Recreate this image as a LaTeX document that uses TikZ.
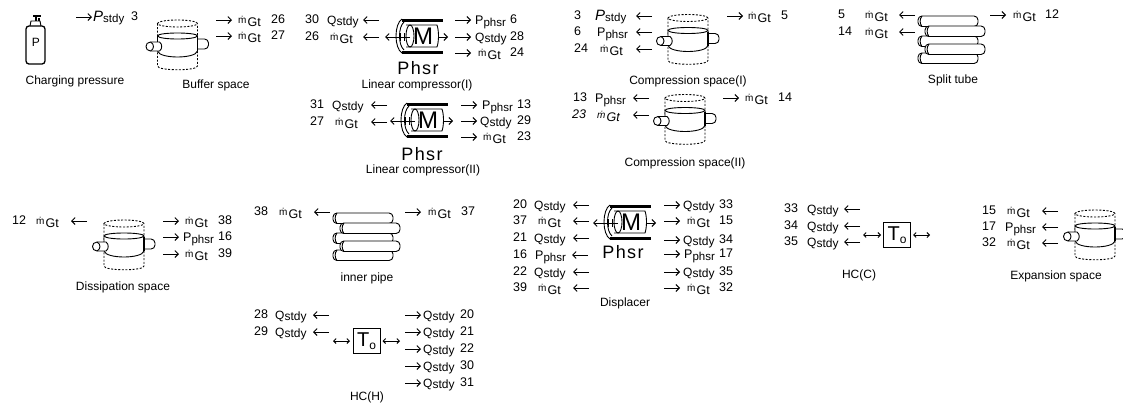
\documentclass[tikz,border=0pt]{standalone}
\usepackage{fontspec}
\setmainfont{Liberation Sans}
\newfontfamily\phsrfont[LetterSpace=8]{Liberation Sans}
\usetikzlibrary{arrows.meta}
\newcommand\fsz[1]{\fontsize{#1}{#1}\selectfont}
\newcommand\MGt{\raisebox{1.5pt}{\fsz{10}\.m}\hspace{1pt}\raisebox{-1.5pt}{\fsz{12.5}Gt}}
\newcommand\Qst{{\fsz{12}Q\raisebox{-0.8pt}{stdy}}}
\newcommand\Pph{{\fsz{12.5}P\raisebox{-2pt}{\fsz{11.5}phsr}}}
\newcommand\Pst{{\fsz{15}\itshape P\upshape\raisebox{-1pt}{\fsz{11.5}stdy}}}
\newcommand\rowR[7]{%
  \coordinate (#1a) at (#2,#3);
  \coordinate (#1b) at (#2+16,#3);
  \draw[flow] (#1a) -- (#1b);
  \node[lab] (#1t) at (#4,#3+4.5) {#5};
  \node[num] (#1n) at (#6,#3+3) {#7};
}
\newcommand\rowL[7]{%
  \coordinate (#1a) at (#2+16,#3);
  \coordinate (#1b) at (#2,#3);
  \draw[flow] (#1a) -- (#1b);
  \node[lab] (#1t) at (#4,#3+4.5) {#5};
  \node[num] (#1n) at (#6,#3+3) {#7};
}
\newcommand\cylicon[2]{%
  \begin{scope}[shift={(#1,#2)}]
    \draw[ico,dashed,dash pattern=on 2pt off 1.6pt] (-20,-19.5) -- (-20,23) .. controls (-20,28) and (20,28) .. (20,23) -- (20,-19.5);
    \draw[ico,dashed,dash pattern=on 2pt off 1.6pt] (0,-19.5) ellipse [x radius=20pt,y radius=3.5pt];
    \draw[ico,fill=white,rounded corners=4pt] (15,-4) -- (31,-4) -- (31,6) -- (15,6) -- cycle;
    \draw[ico,fill=white] (-20,-7) -- (-20,8) .. controls (-18,16) and (18,16) .. (20,8) -- (20,-7) .. controls (20,-11) and (-20,-11) .. (-20,-7) -- cycle;
    \draw[ico] (-20,-7) .. controls (-18,-3) and (18,-3) .. (20,-7);
    \draw[ico,line width=1.3pt] (20,-6) -- (20,8);
    \draw[ico,fill=white] (-27,-1) -- (-18,-1) .. controls (-15,1) and (-15,6) .. (-18,8) -- (-27,8) .. controls (-33,8) and (-33,-1) .. (-27,-1) -- cycle;
    \draw[ico] (-27,-1) .. controls (-23,1) and (-23,6) .. (-27,8);
  \end{scope}
}
\newcommand\onetube[3]{%
  \draw[ico,fill=white,rounded corners=4pt] (#1,#2) rectangle (#1+#3,#2+10.5);
  \draw[ico] (#1+4,#2) .. controls (#1+1.5,#2+3) and (#1+1.5,#2+7.5) .. (#1+4,#2+10.5);
}
\newcommand\tubes[2]{%
  \begin{scope}[shift={(#1,#2)}]
    \onetube{0}{0}{60}
    \onetube{0}{20}{60}
    \onetube{0}{37}{60}
    \onetube{7}{10}{60}
    \onetube{7}{28}{60}
  \end{scope}
}
\newcommand\motor[2]{%
  \begin{scope}[shift={(#1,#2)}]
    \draw[ico,fill=black,line width=0.6pt] (-16,-17) rectangle (24,-15);
    \draw[ico,fill=black,line width=0.6pt] (-16,15) rectangle (24,17);
    \draw[ico] (-16,-17) .. controls (-24,-12) and (-24,12) .. (-16,17);
    \draw[ico] (-14,-14) .. controls (-20,-9) and (-20,9) .. (-14,14);
    \draw[ico] (-8,0) ellipse [x radius=4pt,y radius=11pt];
    \draw[ico] (-12,-11) -- (19,-11) .. controls (21,-5) and (21,5) .. (19,11) -- (-12,11);
    \draw[flow] (-8,1) -- (-33,1);
    \draw[ico] (-18,-3) -- (-18,5);
    \draw[ico] (-14,-3) -- (-14,5);
    \draw[flow] (20,1) -- (30,1);
    \node[font=\fsz{24}] at (5,0.5) {M};
  \end{scope}
}
\tikzset{
  lab/.style={anchor=base west,inner sep=0pt,font=\fsz{12}},
  num/.style={anchor=base west,inner sep=0pt,font=\fsz{12.5}},
  title/.style={anchor=center,inner sep=0pt,font=\fsz{12}},
  phsrlab/.style={anchor=center,inner sep=0pt,font=\phsrfont\fsz{18}},
  ico/.style={line width=0.9pt,black},
  flow/.style={line width=0.9pt,black,-{Straight Barb[length=3.5pt,width=7pt]}},
  link/.style={line width=0.9pt,black,{Straight Barb[length=2.5pt,width=5pt]}-{Straight Barb[length=2.5pt,width=5pt]}},
  tbox/.style={draw,line width=1pt,minimum width=27pt,minimum height=25pt,inner sep=0pt}
}
\begin{document}
\begin{tikzpicture}[x=1pt,y=-1pt]
\useasboundingbox (0,0) rectangle (1123,408);
\clip (0,0) rectangle (1123,408);
% Charging pressure
\draw[ico,line width=1.3pt,rounded corners=3pt] (26,26) rectangle (45,64);
\draw[ico] (30,26) -- (31,21) -- (40,21) -- (41,26);
\draw[ico,line width=1.2pt] (33,16) -- (41,16) (36,16) -- (36,21) (39,18) -- (39,21);
\node[font=\fsz{12},inner sep=0pt] (bottleP) at (36,42) {P};
\node[title] (tCharge) at (75,81) {Charging pressure};
\rowR{cpa}{76}{17}{93}{\Pst}{131}{3}
% Buffer space
\cylicon{177.5}{43}
\node[title] (tBuffer) at (216,85) {Buffer space};
\rowR{bua}{216}{20}{238}{\MGt}{271}{26}
\rowR{bub}{216}{36}{238}{\MGt}{271}{27}
% Linear compressor I
\motor{418}{36}
\node[phsrlab] (pLcA) at (418,68) {Phsr};
\node[title] (tLcA) at (417,85) {Linear compressor(I)};
\rowL{laa}{363}{20}{327}{\Qst}{305}{30}
\rowL{lab}{363}{37}{330}{\MGt}{305}{26}
\rowR{lac}{455}{20}{475}{\Pph}{510}{6}
\rowR{lad}{455}{37}{475}{\Qst}{510}{28}
\rowR{lae}{455}{53}{478}{\MGt}{510}{24}
% Linear compressor II
\motor{423}{120}
\node[phsrlab] (pLcB) at (422,154) {Phsr};
\node[title] (tLcB) at (423,170) {Linear compressor(II)};
\rowL{lba}{371}{105}{332}{\Qst}{310}{31}
\rowL{lbb}{371}{122}{335}{\MGt}{310}{27}
\rowR{lbc}{461}{105}{482}{\Pph}{517}{13}
\rowR{lbd}{461}{121}{480}{\Qst}{517}{29}
\rowR{lbe}{461}{137}{483}{\MGt}{517}{23}
% Compression space I
\cylicon{688}{37.5}
\node[title] (tCsA) at (688,81) {Compression space(I)};
\rowL{caa}{636}{16}{595}{\Pst}{574}{3}
\rowL{cab}{636}{32}{597}{\Pph}{574}{6}
\rowL{cac}{636}{49}{600}{\MGt}{574}{24}
\rowR{cad}{727}{16}{748}{\MGt}{781}{5}
% Compression space II
\cylicon{685}{117.5}
\node[title] (tCsB) at (685,163) {Compression space(II)};
\rowL{cba}{633}{98}{595}{\Pph}{573}{13}
\rowL{cbb}{633}{115}{597}{\itshape\MGt}{572}{\itshape 23}
\rowR{cbc}{723}{98}{745}{\MGt}{778}{14}
% Split tube
\tubes{918}{16}
\node[title] (tSplit) at (953,80) {Split tube};
\rowL{saa}{899}{15}{865}{\MGt}{838}{5}
\rowL{sab}{899}{32}{865}{\MGt}{838}{14}
\rowR{sac}{990}{15}{1013}{\MGt}{1045}{12}
% Dissipation space
\cylicon{124}{243}
\node[title] (tDiss) at (123,287) {Dissipation space};
\rowL{daa}{71}{221}{36}{\MGt}{12}{12}
\rowR{dab}{163}{221}{185}{\MGt}{218}{38}
\rowR{dac}{163}{237}{183}{\Pph}{218}{16}
\rowR{dad}{163}{254}{185}{\MGt}{218}{39}
% Inner pipe
\tubes{333}{213}
\node[title] (tInner) at (367,278) {inner pipe};
\rowL{iaa}{314}{212}{279}{\MGt}{254}{38}
\rowR{iab}{405}{212}{428}{\MGt}{461}{37}
% HC(H)
\node[tbox] (Th) at (366.5,341) {\raisebox{1pt}{\fsz{20}T}\raisebox{-2pt}{\fsz{12}o}};
\coordinate (ThL) at (333,341);
\coordinate (ThR) at (400,341);
\draw[link,shorten >=2.5pt] (ThL) -- (Th.west);
\draw[link,shorten >=2pt] (ThR) -- (Th.east);
\node[title] (tHch) at (367,397) {HC(H)};
\rowL{hha}{313}{315}{275}{\Qst}{254}{28}
\rowL{hhb}{313}{332}{275}{\Qst}{254}{29}
\rowR{hhc}{405}{315}{423}{\Qst}{460}{20}
\rowR{hhd}{405}{332}{423}{\Qst}{460}{21}
\rowR{hhe}{405}{349}{423}{\Qst}{460}{22}
\rowR{hhf}{405}{366}{423}{\Qst}{460}{30}
\rowR{hhg}{405}{383}{423}{\Qst}{460}{31}
% Displacer
\motor{626}{222}
\node[phsrlab] (pDis) at (623,252) {Phsr};
\node[title] (tDis) at (625,303) {Displacer};
\rowL{dsa}{573}{205}{534}{\Qst}{513}{20}
\rowL{dsb}{573}{221}{538}{\MGt}{513}{37}
\rowL{dsc}{573}{238}{534}{\Qst}{513}{21}
\rowL{dsd}{572}{255}{535}{\Pph}{513}{16}
\rowL{dse}{573}{272}{534}{\Qst}{513}{22}
\rowL{dsf}{573}{288}{538}{\MGt}{513}{39}
\rowR{dsg}{664}{205}{683}{\Qst}{719}{33}
\rowR{dsh}{664}{221}{687}{\MGt}{719}{15}
\rowR{dsi}{664}{240}{683}{\Qst}{719}{34}
\rowR{dsj}{664}{254}{684}{\Pph}{719}{17}
\rowR{dsk}{664}{272}{683}{\Qst}{719}{35}
\rowR{dsl}{664}{288}{687}{\MGt}{719}{32}
% HC(C)
\node[tbox] (Tc) at (897,235) {\raisebox{1pt}{\fsz{20}T}\raisebox{-2pt}{\fsz{12}o}};
\coordinate (TcL) at (863,235);
\coordinate (TcR) at (930,235);
\draw[link,shorten >=2pt] (TcL) -- (Tc.west);
\draw[link,shorten >=2pt] (TcR) -- (Tc.east);
\node[title] (tHcc) at (859,275) {HC(C)};
\rowL{hca}{844}{209}{807}{\Qst}{784}{33}
\rowL{hcb}{844}{226}{807}{\Qst}{784}{34}
\rowL{hcc}{844}{242}{807}{\Qst}{784}{35}
% Expansion space
\cylicon{1095}{233}
\node[title] (tExp) at (1056,276) {Expansion space};
\rowL{exa}{1042}{211}{1007}{\MGt}{982}{15}
\rowL{exb}{1042}{227}{1005}{\Pph}{982}{17}
\rowL{exc}{1042}{243}{1007}{\MGt}{982}{32}
\end{tikzpicture}
\end{document}
